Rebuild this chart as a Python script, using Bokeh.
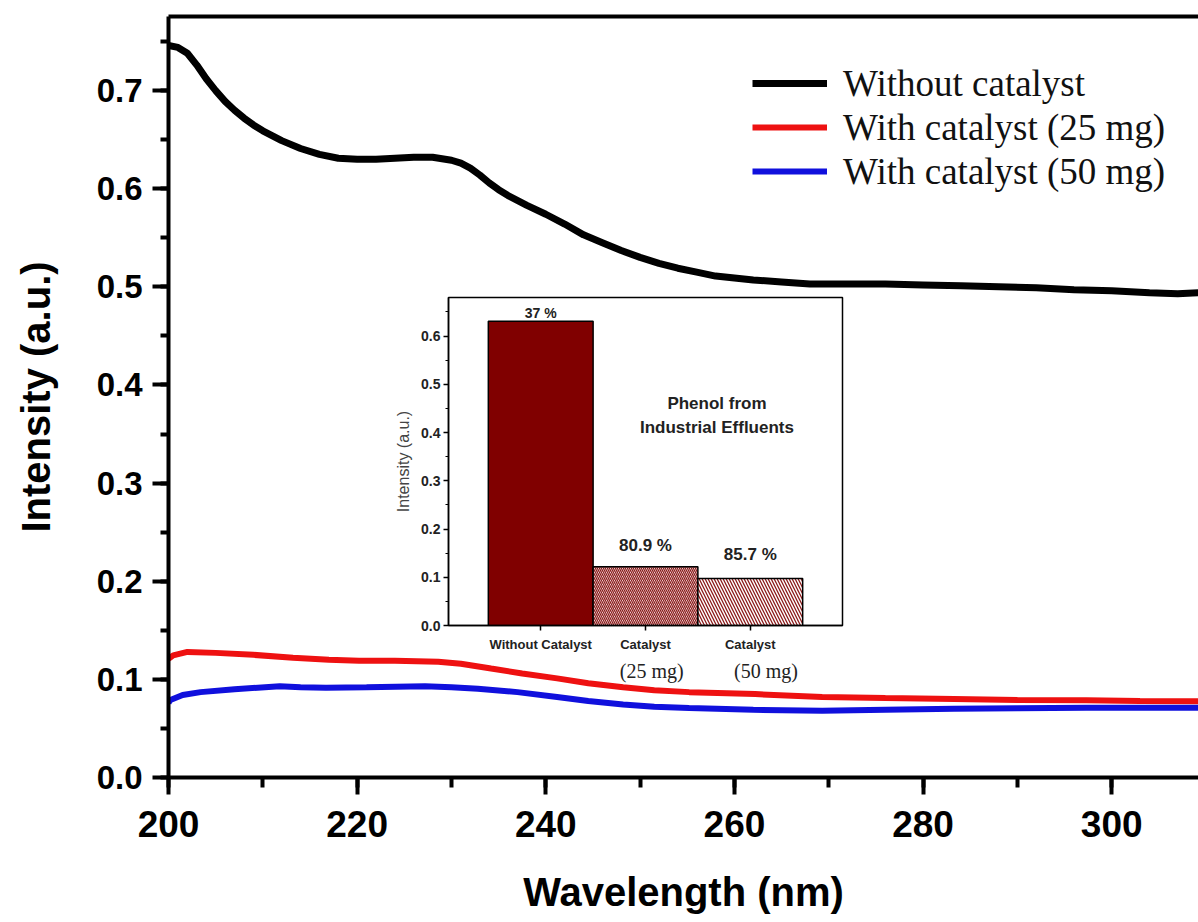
from bokeh.plotting import figure
from bokeh.models import (Range1d, LinearAxis, SingleIntervalTicker, FixedTicker,
                          PrintfTickFormatter, Legend, LegendItem, Label,
                          ColumnDataSource)
from bokeh.embed import file_html
from bokeh.resources import INLINE

# ---------------- main spectra data ----------------
wl_black = [200, 201, 202, 203, 204, 205, 206, 207, 208, 209, 210, 212, 214, 216, 218,
            220, 222, 224, 226, 228, 230, 231, 232, 233, 234, 235, 236, 238, 240, 242,
            244, 246, 248, 250, 252, 254, 256, 258, 260, 262, 265, 268, 272, 276, 280,
            284, 288, 292, 296, 300, 304, 307, 309.2]
int_black = [0.746, 0.744, 0.738, 0.726, 0.712, 0.700, 0.689, 0.680, 0.672, 0.665, 0.659,
             0.649, 0.641, 0.635, 0.631, 0.630, 0.630, 0.631, 0.632, 0.632, 0.629, 0.626,
             0.621, 0.614, 0.606, 0.599, 0.593, 0.583, 0.574, 0.564, 0.553, 0.545, 0.537,
             0.530, 0.524, 0.519, 0.515, 0.511, 0.509, 0.507, 0.505, 0.503, 0.503, 0.503,
             0.502, 0.501, 0.500, 0.499, 0.497, 0.496, 0.494, 0.493, 0.494]

wl_red = [200, 200.5, 202, 205, 209, 213.2, 217, 220.2, 224, 228.6, 231, 234.2, 237.5,
          241.2, 244.5, 248.2, 251.5, 255.2, 262.2, 269.3, 276, 283.3, 290, 297.3, 303, 309.2]
int_red = [0.121, 0.1245, 0.128, 0.127, 0.125, 0.122, 0.120, 0.119, 0.119, 0.118, 0.116,
           0.111, 0.106, 0.101, 0.096, 0.092, 0.089, 0.087, 0.085, 0.082, 0.081, 0.080,
           0.079, 0.0786, 0.078, 0.0776]

wl_blue = [200, 200.2, 201.5, 203.4, 207, 211.8, 214, 216.7, 221, 227.2, 230, 232.8, 237,
           241.2, 244.5, 248.2, 251.5, 255.2, 262, 269.3, 276, 283.3, 290, 297.3, 303, 309.2]
int_blue = [0.076, 0.079, 0.084, 0.087, 0.090, 0.093, 0.092, 0.0915, 0.092, 0.093, 0.092,
            0.0905, 0.087, 0.082, 0.078, 0.0745, 0.072, 0.0707, 0.069, 0.068, 0.069, 0.070,
            0.0705, 0.071, 0.071, 0.071]

series_names = ["Without catalyst", "With catalyst (25 mg)", "With catalyst (50 mg)"]

# ---------------- inset bar data ----------------
bar_x = [1, 2, 3]
bar_labels = ["Without Catalyst", "Catalyst", "Catalyst"]
bar_sublabels = ["", "(25 mg)", "(50 mg)"]
bar_values = [0.631, 0.122, 0.0975]
bar_pct = ["37 %", "80.9 %", "85.7 %"]
inset_title = ["Phenol from", "Industrial Effluents"]

SANS = "Liberation Sans"
SERIF = "Liberation Serif"

# ---------------- main figure ----------------
p = figure(width=1198, height=922, output_backend="svg", toolbar_location=None,
           x_range=Range1d(200, 309.2), y_range=Range1d(0, 0.7755),
           min_border_left=168, min_border_right=0, min_border_top=16,
           min_border_bottom=145)
p.outline_line_color = None
p.grid.visible = False
p.background_fill_color = "white"
p.border_fill_color = "white"

r_black = p.line(wl_black, int_black, line_color="black", line_width=7)
r_red = p.line(wl_red, int_red, line_color="#ee1111", line_width=6)
r_blue = p.line(wl_blue, int_blue, line_color="#1010dd", line_width=6)

xa = p.xaxis[0]
xa.ticker = SingleIntervalTicker(interval=20, num_minor_ticks=2)
ya = p.yaxis[0]
ya.ticker = SingleIntervalTicker(interval=0.1, num_minor_ticks=2)
ya.formatter = PrintfTickFormatter(format="%.1f")

for ax in (xa, ya):
    ax.axis_line_width = 4
    ax.major_tick_line_width = 4
    ax.minor_tick_line_width = 4
    ax.major_tick_in = 0
    ax.minor_tick_in = 0
    ax.major_label_text_font = SANS
    ax.major_label_text_font_style = "bold"
    ax.major_label_text_color = "black"
    ax.axis_label_text_font = SANS
    ax.axis_label_text_font_style = "bold"
    ax.axis_label_text_font_size = "40px"
    ax.axis_label_text_color = "black"

xa.major_tick_out = 17
xa.minor_tick_out = 10
xa.major_label_standoff = 16
xa.major_label_text_font_size = "37px"
xa.axis_label = "Wavelength (nm)"
xa.axis_label_standoff = 30

ya.major_tick_out = 16
ya.minor_tick_out = 8
ya.major_label_standoff = 10
ya.major_label_text_font_size = "33px"
ya.axis_label = "Intensity (a.u.)"
ya.axis_label_standoff = 36

top_axis = LinearAxis(axis_line_width=4, ticker=FixedTicker(ticks=[], minor_ticks=[]),
                      major_tick_out=0, major_tick_in=0,
                      minor_tick_out=0, minor_tick_in=0, major_label_standoff=0)
p.add_layout(top_axis, "above")

legend = Legend(items=[LegendItem(label=series_names[0], renderers=[r_black]),
                       LegendItem(label=series_names[1], renderers=[r_red]),
                       LegendItem(label=series_names[2], renderers=[r_blue])],
                location=(584, 584), border_line_color=None,
                background_fill_alpha=0, padding=0, margin=0, spacing=0,
                glyph_width=75, glyph_height=44, label_height=44,
                label_standoff=16, label_text_font=SERIF,
                label_text_font_size="37px", label_text_color="#111111")
p.add_layout(legend)

# ---------------- inset figure ----------------
inset = figure(width=458, height=398, output_backend="svg", toolbar_location=None,
               x_range=Range1d(0.12, 3.88), y_range=Range1d(0, 0.68),
               min_border_left=58, min_border_right=6, min_border_top=8,
               min_border_bottom=62)
inset.grid.visible = False
inset.background_fill_color = "white"
inset.border_fill_alpha = 0
inset.border_fill_color = None
inset.outline_line_color = "black"
inset.outline_line_width = 1.5

src = ColumnDataSource(dict(
    x=bar_x, top=bar_values,
    fill=["#800000", "#ffffff", "#ffffff"],
    hatch=[" ", "\\", "\\"],
    hscale=[4, 4, 6],
))
inset.vbar(x="x", top="top", width=1, source=src, fill_color="fill",
           line_color="black", line_width=1.5,
           hatch_pattern="hatch", hatch_scale="hscale",
           hatch_color="#8b1a1a", hatch_weight=1.3)

ix = inset.xaxis[0]
ix.ticker = FixedTicker(ticks=bar_x)
ix.major_label_overrides = {bx: lab for bx, lab in zip(bar_x, bar_labels)}
ix.major_tick_out = 5
ix.major_tick_in = 0
ix.minor_tick_out = 0
ix.major_label_standoff = 6
ix.major_label_text_font = SANS
ix.major_label_text_font_style = "bold"
ix.major_label_text_font_size = "13px"
ix.major_label_text_color = "#222222"

# second row of category labels (serif), as a label-only axis below the first
sub_dx = [0.0, 0.06, 0.15]
sub_ticks = [round(bx + dx, 2) for bx, dx, s in zip(bar_x, sub_dx, bar_sublabels) if s]
sub_text = [s for s in bar_sublabels if s]
sub_axis = LinearAxis(ticker=FixedTicker(ticks=sub_ticks, minor_ticks=[]),
                      major_label_overrides={t: s for t, s in zip(sub_ticks, sub_text)},
                      axis_line_color=None, major_tick_out=0, major_tick_in=0,
                      minor_tick_out=0, minor_tick_in=0, major_label_standoff=5,
                      major_label_text_font=SERIF, major_label_text_font_size="20px",
                      major_label_text_color="#222222")
inset.add_layout(sub_axis, "below")

iy = inset.yaxis[0]
iy.ticker = SingleIntervalTicker(interval=0.1, num_minor_ticks=2)
iy.formatter = PrintfTickFormatter(format="%.1f")
iy.major_tick_out = 5
iy.major_tick_in = 0
iy.minor_tick_out = 3
iy.minor_tick_in = 0
iy.major_label_standoff = 3
iy.major_label_text_font = SANS
iy.major_label_text_font_style = "bold"
iy.major_label_text_font_size = "14px"
iy.major_label_text_color = "#222222"
iy.axis_label = "Intensity (a.u.)"
iy.axis_label_text_font = SANS
iy.axis_label_text_font_style = "normal"
iy.axis_label_text_font_size = "16px"
iy.axis_label_standoff = 6

for ax in (ix, iy):
    ax.axis_line_width = 1.5
    ax.major_tick_line_width = 1.5
    ax.minor_tick_line_width = 1.2

# percentage labels above bars
pct_sizes = ["14px", "17px", "17px"]
pct_offsets = [0, 12, 14]
for bx, val, txt, fs, off in zip(bar_x, bar_values, bar_pct, pct_sizes, pct_offsets):
    inset.add_layout(Label(x=bx, y=val, text=txt, text_align="center",
                           text_baseline="bottom", y_offset=off,
                           text_font=SANS, text_font_style="bold",
                           text_font_size=fs, text_color="#222222"))

# inset title
title_y = [0.4606, 0.411]
for t, ty in zip(inset_title, title_y):
    inset.add_layout(Label(x=2.682, y=ty, text=t, text_align="center",
                           text_baseline="middle", text_font=SANS,
                           text_font_style="bold", text_font_size="17px",
                           text_color="#222222"))

inset.styles = {"position": "absolute", "left": "390px", "top": "289px"}

open("out.html", "w").write(file_html([p, inset], INLINE))
